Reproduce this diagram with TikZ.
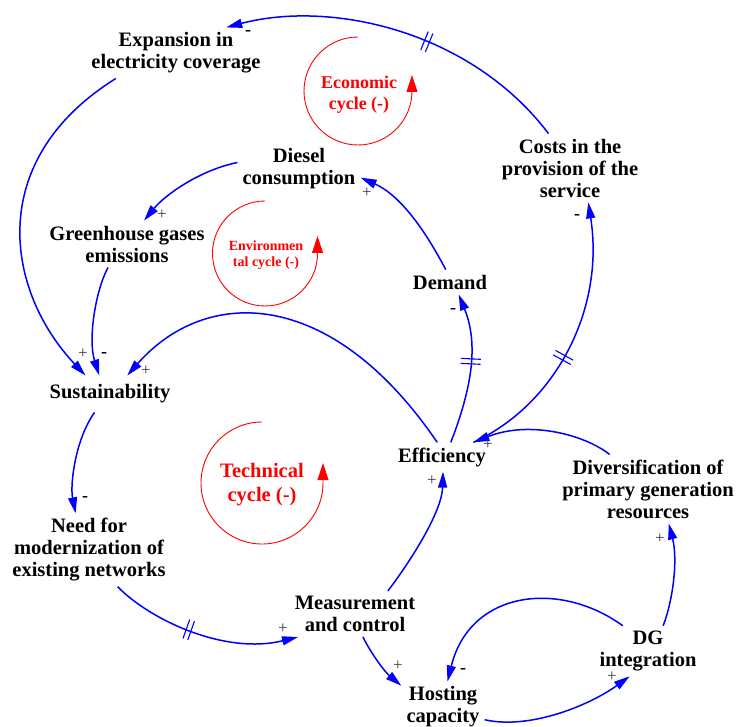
\documentclass[tikz,border=0pt]{standalone}
\usepackage{fontspec}
\setmainfont{Liberation Serif}
\usepackage{tikz}
\usetikzlibrary{arrows.meta,decorations.markings}
\definecolor{cldblue}{RGB}{0,0,255}
\definecolor{cldred}{RGB}{255,0,0}
\definecolor{cldsign}{RGB}{60,60,60}

\begin{document}
\begin{tikzpicture}[x=1pt, y=-1pt,
  var/.style={align=center, inner sep=5pt, font=\bfseries\fontsize{20.5}{22}\selectfont},
  cldlink/.style={-{Triangle[length=16pt,width=9pt]}, cldblue, line width=1.5pt},
  delay/.style={postaction={decorate}, decoration={markings, mark=at position #1 with {\draw[cldblue, line width=1.1pt, arrows=-] (-2.5pt,-10pt) -- (-2.5pt,10pt) (2.5pt,-10pt) -- (2.5pt,10pt);}}},
  loopmark/.style={-{Triangle[length=17pt,width=11pt]}, cldred, line width=0.9pt},
  loopname/.style={align=center, text=cldred},
  possign/.style={text=cldsign, font=\fontsize{17}{17}\selectfont, inner sep=0pt},
  negsign/.style={font=\bfseries\fontsize{18}{18}\selectfont, inner sep=0pt}]
\useasboundingbox (0,0) rectangle (736,727);
\node[var] (exp) at (176,53) {Expansion in\\electricity coverage};
\node[var] (costs) at (570,168) {Costs in the\\provision of the\\service};
\node[var] (diesel) at (299,169) {Diesel\\consumption};
\node[var] (green) at (127,244) {Greenhouse gases\\emissions};
\node[var] (demand) at (450,282) {Demand};
\node[var, inner ysep=9pt] (sust) at (110,394) {Sustainability};
\node[var] (eff) at (442,457) {Efficiency};
\node[var] (divers) at (648,489) {Diversification of\\primary generation\\resources};
\node[var] (need) at (89,550) {Need for\\modernization of\\existing networks};
\node[var] (meas) at (355,614) {Measurement\\and control};
\node[var] (dg) at (648,651) {DG\\integration};
\node[var] (host) at (443,707) {Hosting\\capacity};

\draw[cldlink, delay=0.43] (costs.122) .. controls (470,30) and (330,0) .. (exp.27);
\draw[cldlink] (exp.203) .. controls (-15,160) and (5,290) .. (sust.143);
\draw[cldlink] (diesel.174) .. controls (200,170) and (165,195) .. (green.54);
\draw[cldlink] (green.231) .. controls (95,292) and (88,340) .. (sust.120);
\draw[cldlink] (eff.108) .. controls (330,285) and (205,287) .. (sust.47);
\draw[cldlink, delay=0.55] (eff.59) .. controls (475,380) and (477,340) .. (demand.305);
\draw[cldlink] (demand.109) .. controls (425,230) and (400,195) .. (diesel.352);
\draw[cldlink, delay=0.44] (eff.25) .. controls (555,405) and (605,310) .. (costs.298);
\draw[cldlink] (meas.35) .. controls (415,555) and (442,510) .. (eff.274);
\draw[cldlink] (sust.230) .. controls (75,440) and (70,485) .. (need.110);
\draw[cldlink, delay=0.43] (need.308) .. controls (150,620) and (225,655) .. (meas.202);
\draw[cldlink] (meas.289) .. controls (372,655) and (385,672) .. (host.153);
\draw[cldlink] (host.343) .. controls (530,730) and (590,705) .. (dg.234);
\draw[cldlink] (dg.135) .. controls (560,580) and (470,590) .. (host.80);
\draw[cldlink] (dg.59) .. controls (673,600) and (678,560) .. (divers.301);
\draw[cldlink] (divers.138) .. controls (585,435) and (530,420) .. (eff.25);

\node[negsign] (n1) at (248,33) {-};
\node[possign] (p1) at (83,354) {+};
\node[possign] (p2) at (162,215) {+};
\node[negsign] (n2) at (104,355) {-};
\node[possign] (p3) at (146,371) {+};
\node[negsign] (n3) at (453,311) {-};
\node[possign] (p4) at (367,193) {+};
\node[negsign] (n4) at (577,217) {-};
\node[possign] (p5) at (432,481) {+};
\node[negsign] (n5) at (85,499) {-};
\node[possign] (p6) at (283,629) {+};
\node[possign] (p7) at (398,666) {+};
\node[possign] (p8) at (612,677) {+};
\node[negsign] (n6) at (463,671) {-};
\node[possign] (p9) at (660,539) {+};
\node[possign] (p10) at (488,445) {+};

\draw[loopmark] (358,37) arc[start angle=-90, end angle=-360, radius=54] -- ++(0,-16);
\draw[loopmark] (265,201) arc[start angle=-90, end angle=-360, radius=52.5] -- ++(0,-17.5);
\draw[loopmark] (262,422) arc[start angle=-90, end angle=-360, radius=61] -- ++(0,-20);
\node[loopname, font=\bfseries\fontsize{18}{21}\selectfont] (econ) at (359,95) {Economic\\cycle (-)};
\node[loopname, font=\bfseries\fontsize{14}{16}\selectfont] (envi) at (266,255) {Environmen\\tal cycle (-)};
\node[loopname, font=\bfseries\fontsize{20.5}{24}\selectfont] (tech) at (262,485) {Technical\\cycle (-)};
\end{tikzpicture}
\end{document}
